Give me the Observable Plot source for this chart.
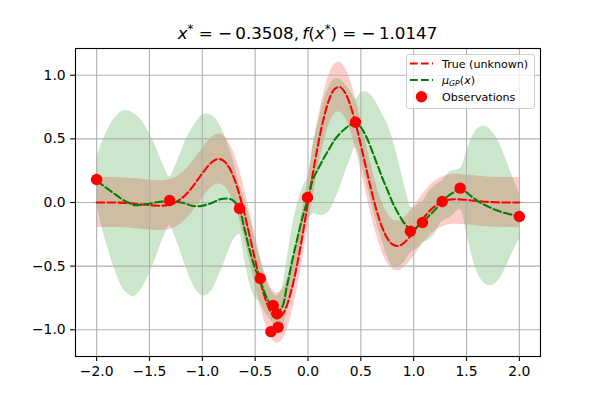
<!DOCTYPE html>
<html><head><meta charset="utf-8">
<script src="https://cdn.jsdelivr.net/npm/d3@7"></script>
<script src="https://cdn.jsdelivr.net/npm/@observablehq/plot@0.6"></script>
<style>body{margin:0;background:#fff}</style>
</head><body><div id="chart"></div>
<script>
// ---- data ----
const xTicks = [-2, -1.5, -1, -0.5, 0, 0.5, 1, 1.5, 2];
const yTicks = [-1, -0.5, 0, 0.5, 1];

const trueX = [-2.00,-1.95,-1.90,-1.85,-1.80,-1.75,-1.70,-1.65,-1.60,-1.55,-1.50,-1.45,-1.40,-1.35,-1.30,-1.25,-1.20,-1.15,-1.10,-1.05,-1.00,-0.95,-0.90,-0.85,-0.80,-0.75,-0.70,-0.65,-0.60,-0.55,-0.50,-0.45,-0.40,-0.35,-0.30,-0.25,-0.20,-0.15,-0.10,-0.05,
  0.00,0.05,0.10,0.15,0.20,0.25,0.30,0.35,0.40,0.45,0.50,0.55,0.60,0.65,0.70,0.75,0.80,0.85,0.90,0.95,1.00,1.05,1.10,1.15,1.20,1.25,1.30,1.35,1.40,1.45,1.50,1.55,1.60,1.65,1.70,1.75,1.80,1.85,1.90,1.95,2.00];
const trueY = [0.000,0.000,0.000,0.000,-0.001,-0.003,-0.005,-0.008,-0.012,-0.016,-0.021,-0.024,-0.025,-0.023,-0.014,0.003,0.030,0.067,0.115,0.171,0.229,0.282,0.323,0.342,0.329,0.280,0.192,0.065,-0.092,-0.270,-0.452,-0.623,-0.765,-0.864,-0.908,-0.890,-0.808,-0.666,-0.475,-0.247,
  0.000,0.247,0.475,0.666,0.808,0.890,0.908,0.864,0.765,0.623,0.452,0.270,0.092,-0.065,-0.192,-0.280,-0.329,-0.342,-0.323,-0.282,-0.229,-0.171,-0.115,-0.067,-0.030,-0.003,0.014,0.023,0.025,0.024,0.021,0.016,0.012,0.008,0.005,0.003,0.001,0.000,0.000,0.000,0.000];
const noiseBand = 0.196;

const gpX = [-2.0,-1.95,-1.9,-1.85,-1.8,-1.75,-1.7,-1.65,-1.6,-1.55,-1.5,-1.45,-1.4,-1.35,-1.31,-1.25,-1.2,-1.15,-1.1,-1.05,-1.0,-0.95,-0.9,-0.85,-0.8,-0.75,-0.7,-0.65,-0.6,-0.55,-0.5,-0.45,-0.4,-0.35,-0.3,-0.25,-0.2,-0.15,-0.1,-0.05,
  0.0,0.05,0.1,0.15,0.2,0.25,0.3,0.35,0.4,0.45,0.5,0.55,0.6,0.65,0.7,0.75,0.8,0.85,0.9,0.95,0.97,1.0,1.05,1.08,1.15,1.2,1.27,1.35,1.44,1.5,1.55,1.6,1.65,1.7,1.75,1.8,1.85,1.9,1.95,2.0];
const gpMean = [0.17,0.14,0.11,0.08,0.05,0.02,0.0,-0.02,-0.02,-0.015,-0.01,0.0,0.005,0.01,0.01,0.005,0.0,-0.01,-0.025,-0.03,-0.025,-0.015,0.0,0.02,0.03,0.03,0.01,-0.05,-0.21,-0.38,-0.52,-0.62,-0.73,-0.81,-0.855,-0.83,-0.66,-0.46,-0.28,-0.11,
  0.03,0.19,0.27,0.35,0.42,0.49,0.54,0.58,0.61,0.62,0.59,0.52,0.42,0.31,0.20,0.10,0.0,-0.08,-0.15,-0.20,-0.215,-0.21,-0.18,-0.16,-0.10,-0.06,0.01,0.065,0.105,0.08,0.045,0.015,-0.01,-0.03,-0.05,-0.065,-0.08,-0.09,-0.10,-0.11];
const gpBand = [0.18,0.33,0.45,0.56,0.64,0.70,0.72,0.72,0.69,0.63,0.55,0.46,0.35,0.25,0.19,0.29,0.40,0.51,0.60,0.67,0.71,0.71,0.68,0.61,0.52,0.41,0.30,0.20,0.24,0.26,0.23,0.17,0.14,0.12,0.12,0.15,0.21,0.26,0.27,0.23,
  0.17,0.28,0.37,0.45,0.49,0.48,0.43,0.35,0.27,0.19,0.27,0.35,0.42,0.47,0.50,0.52,0.50,0.43,0.33,0.22,0.18,0.17,0.17,0.16,0.19,0.19,0.16,0.18,0.16,0.32,0.46,0.56,0.61,0.62,0.60,0.55,0.47,0.37,0.27,0.18];

const obsX = [-2.0,-1.31,-0.648,-0.452,-0.3508,-0.329,-0.294,-0.283,-0.005,0.449,0.969,1.083,1.27,1.44,2.0];
const obsY = [0.181,0.016,-0.047,-0.597,-1.0147,-0.809,-0.874,-0.98,0.039,0.630,-0.226,-0.157,0.008,0.113,-0.110];

const titleX = "−0.3508";
const titleF = "−1.0147";
const legendTrue = "True (unknown)";
const legendObs = "Observations";

// ---- tables ----
const trueData = trueX.map((x, i) => ({x, y: trueY[i]}));
const gpData = gpX.map((x, i) => ({x, m: gpMean[i], b: gpBand[i]}));
const obsData = obsX.map((x, i) => ({x, y: obsY[i]}));

const W = 600, H = 400, ML = 75, MR = 60, MT = 48, MB = 44;
const lw = 2.08, dash = "7.7 3.3";
const fmt = d3.format(".1f");

const plot = Plot.plot({
  width: W, height: H,
  marginLeft: ML, marginRight: MR, marginTop: MT, marginBottom: MB,
  style: {fontFamily: "'DejaVu Sans', sans-serif", fontSize: "13.9px", background: "white", color: "black"},
  x: {domain: [-2.2, 2.2]},
  y: {domain: [-1.21, 1.21]},
  marks: [
    Plot.areaY(trueData, {x: "x", y1: d => d.y - noiseBand, y2: d => d.y + noiseBand, fill: "#ff0000", fillOpacity: 0.2, curve: "catmull-rom"}),
    Plot.areaY(gpData, {x: "x", y1: d => d.m - d.b, y2: d => d.m + d.b, fill: "#008000", fillOpacity: 0.2, curve: "catmull-rom"}),
    Plot.gridX(xTicks, {stroke: "#b0b0b0", strokeOpacity: 1, strokeWidth: 1.1}),
    Plot.gridY(yTicks, {stroke: "#b0b0b0", strokeOpacity: 1, strokeWidth: 1.1}),
    Plot.line(trueData, {x: "x", y: "y", stroke: "#ff0000", strokeWidth: lw, strokeDasharray: dash, curve: "catmull-rom"}),
    Plot.line(gpData, {x: "x", y: "m", stroke: "#008000", strokeWidth: lw, strokeDasharray: dash, curve: "catmull-rom"}),
    Plot.dot(obsData, {x: "x", y: "y", r: 5.7, fill: "#ff0000", stroke: "none"}),
    Plot.frame({stroke: "black", strokeWidth: 1.1}),
    Plot.axisX(xTicks, {tickSize: 4.9, tickPadding: 4.9, tickFormat: fmt, label: null, strokeWidth: 1.1}),
    Plot.axisY(yTicks, {tickSize: 4.9, tickPadding: 4.9, tickFormat: fmt, label: null, strokeWidth: 1.1})
  ]
});
document.getElementById("chart").appendChild(plot);

const svg = d3.select(plot);
const ns = "DejaVu Sans";

// ---- title (mathtext-like) ----
const t = svg.append("text")
  .attr("x", ML + (W - ML - MR) / 2).attr("y", 39)
  .attr("text-anchor", "middle").attr("font-family", ns).attr("font-size", 16.7).attr("fill", "black");
t.append("tspan").attr("font-style", "italic").text("x");
t.append("tspan").attr("font-size", 11.7).attr("dy", -6.5).text("*");
t.append("tspan").attr("dy", 6.5).text(" = " + titleX.replace("−", "−\u2009") + ",\u2009");
t.append("tspan").attr("font-style", "italic").text("f");
t.append("tspan").text("(");
t.append("tspan").attr("font-style", "italic").text("x");
t.append("tspan").attr("font-size", 11.7).attr("dy", -6.5).text("*");
t.append("tspan").attr("dy", 6.5).text(") = " + titleF.replace("−", "−\u2009"));

// ---- legend ----
const lg = svg.append("g").attr("font-family", ns).attr("font-size", 11.1).attr("text-anchor", "start").attr("fill", "black");
lg.append("rect").attr("x", 406.5).attr("y", 54.5).attr("width", 128).attr("height", 54)
  .attr("rx", 2.5).attr("fill", "white").attr("fill-opacity", 0.8).attr("stroke", "#cccccc").attr("stroke-width", 1);
const rows = [63.5, 80, 96.7];
lg.append("line").attr("x1", 410).attr("x2", 433).attr("y1", rows[0]).attr("y2", rows[0])
  .attr("stroke", "#ff0000").attr("stroke-width", lw).attr("stroke-dasharray", dash);
lg.append("line").attr("x1", 410).attr("x2", 433).attr("y1", rows[1]).attr("y2", rows[1])
  .attr("stroke", "#008000").attr("stroke-width", lw).attr("stroke-dasharray", dash);
lg.append("circle").attr("cx", 421.5).attr("cy", rows[2]).attr("r", 5.7).attr("fill", "#ff0000");
lg.append("text").attr("x", 442).attr("y", rows[0] + 4).text(legendTrue);
const mu = lg.append("text").attr("x", 442).attr("y", rows[1] + 4);
mu.append("tspan").attr("font-style", "italic").text("μ");
mu.append("tspan").attr("font-style", "italic").attr("font-size", 7.8).attr("dy", 1.8).text("GP");
mu.append("tspan").attr("dy", -1.8).text("(");
mu.append("tspan").attr("font-style", "italic").text("x");
mu.append("tspan").text(")");
lg.append("text").attr("x", 442).attr("y", rows[2] + 4).text(legendObs);
</script>
</body></html>
